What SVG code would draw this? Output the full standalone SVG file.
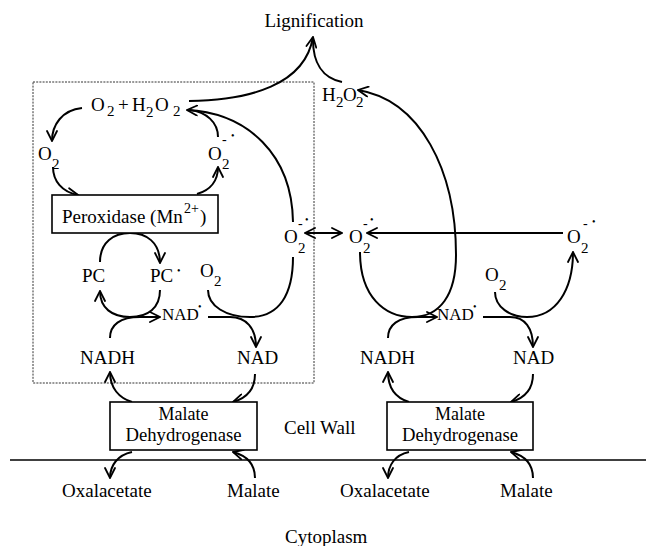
<svg xmlns="http://www.w3.org/2000/svg" width="646" height="546" viewBox="0 0 646 546">
<defs>
<marker id="ah" viewBox="0 0 12 12" refX="11" refY="6" markerWidth="12" markerHeight="12" markerUnits="userSpaceOnUse" orient="auto">
<path d="M1,1 L11,6 L1,11" fill="none" stroke="#000" stroke-width="1.8" stroke-linecap="round" stroke-linejoin="miter"/>
</marker>
<style>
text{font-family:"Liberation Serif","Times New Roman",serif;fill:#000;font-size:19px}
.sub{font-size:15px}
.sup{font-size:14px}
.dot{font-size:10px}
.sm{font-size:17px}
.md{font-size:18px}
.c{fill:none;stroke:#000;stroke-width:2}
.a{marker-end:url(#ah)}
.box{fill:#fff;stroke:#000;stroke-width:1.6}
.dash{fill:none;stroke:#333;stroke-width:1;stroke-dasharray:2 1.2}
.mid{text-anchor:middle}
</style>
</defs>
<rect width="646" height="546" fill="#fff"/>

<g id="cellwall-region">
<rect class="dash" x="33" y="82" width="281" height="301"/>
<line x1="10" y1="460" x2="646" y2="460" stroke="#000" stroke-width="1.5"/>
<text x="284" y="434">Cell Wall</text>
<text x="285" y="543" font-size="18">Cytoplasm</text>
</g>

<g id="connectors">
<path class="c a" d="M189,101 C250,100 305,85 313,37"/>
<path class="c" d="M342,82 C322,78 313,62 313,40"/>
<path class="c a" d="M82,108 C62,110 52,125 52,141"/>
<path class="c a" d="M53,167 C53,181 62,192 78,195"/>
<path class="c a" d="M197,194 C211,190 218,180 218,167"/>
<path class="c" d="M218,137 C218,122 206,112 190,110"/>
<path class="c a" d="M293,222 C292,155 248,113 187,110"/>
<path class="c a" d="M100,262 C100,242 114,233 130,233 C146,233 160,242 160,263"/>
<path class="c a" d="M160,290 C160,308 148,317 130,317 C112,317 100,308 100,291"/>
<path class="c a" d="M110,338 C110,325 120,317 140,317 L160,317"/>
<path class="c a" d="M208,317 L230,317 C246,317 256,328 256,347"/>
<path class="c" d="M208,290 C208,306 226,317 250,317 C279,317 293,295 293,257"/>
<path class="c a" d="M320,233 L342,233"/>
<path class="c a" d="M330,233 L305,233"/>
<path class="c a" d="M563,233 L367,233"/>
<path class="c a" d="M360,252 C360,297 385,317 412,317 C440,317 456,295 456,255 C456,170 420,100 358,90"/>
<path class="c a" d="M388,338 C388,325 398,317 418,317 L437,317"/>
<path class="c a" d="M483,317 L510,317 C525,317 533,328 533,347"/>
<path class="c a" d="M495,292 C495,307 510,317 527,317 C556,317 573,290 573,252"/>
<path class="c a" d="M132,402 C119,398 110,388 110,372"/>
<path class="c a" d="M255,374 C255,389 247,398 233,402"/>
<path class="c a" d="M132,452 C118,455 110,465 110,478"/>
<path class="c a" d="M255,478 C255,465 248,456 233,452"/>
<path class="c a" d="M409,402 C396,398 388,388 388,372"/>
<path class="c a" d="M533,374 C533,389 525,398 511,402"/>
<path class="c a" d="M409,452 C395,455 388,465 388,478"/>
<path class="c a" d="M533,478 C533,465 526,456 511,452"/>
</g>

<g id="lignification"><text x="314" y="27" class="mid" font-size="18">Lignification</text></g>

<g id="o2-h2o2">
<text x="91" y="111">O<tspan x="107" y="116" class="sub">2</tspan><tspan x="118" y="111">+</tspan><tspan x="132" y="111">H</tspan><tspan x="146" y="117" class="sub">2</tspan><tspan x="155" y="111">O</tspan><tspan x="173" y="116" class="sub">2</tspan></text>
</g>

<g id="h2o2-right">
<text x="322" y="101" font-size="18">H<tspan x="336" y="107" class="sub">2</tspan><tspan x="343" y="101">O</tspan><tspan x="356" y="107" class="sub">2</tspan></text>
</g>

<g id="o2-left"><text x="38" y="160">O<tspan x="52" y="169" class="sub">2</tspan></text></g>

<g id="o2rad-upper">
<text x="208" y="160">O<tspan x="222" y="169" class="sub">2</tspan><tspan x="222" y="144" class="sup">-</tspan><tspan x="231" y="139" class="dot">•</tspan></text>
</g>

<g id="peroxidase">
<rect class="box" x="52" y="195" width="166" height="38"/>
<text x="62" y="223">Peroxidase (Mn<tspan x="184" y="213" class="sup">2+</tspan><tspan x="200" y="223">)</tspan></text>
</g>

<g id="pc"><text x="82" y="282">PC</text></g>
<g id="pc-rad"><text x="150" y="282">PC<tspan x="177" y="274" class="dot">•</tspan></text></g>

<g id="o2-mid-left"><text x="200" y="277">O<tspan x="214" y="286" class="sub">2</tspan></text></g>

<g id="o2rad-box">
<text x="284" y="243">O<tspan x="298" y="253" class="sub">2</tspan><tspan x="298" y="228" class="sup">-</tspan><tspan x="305" y="223" class="dot">•</tspan></text>
</g>

<g id="o2rad-mid">
<text x="349" y="243">O<tspan x="363" y="253" class="sub">2</tspan><tspan x="363" y="228" class="sup">-</tspan><tspan x="370" y="223" class="dot">•</tspan></text>
</g>

<g id="o2rad-right">
<text x="567" y="243">O<tspan x="581" y="253" class="sub">2</tspan><tspan x="583" y="228" class="sup">-</tspan><tspan x="592" y="225" class="dot">•</tspan></text>
</g>

<g id="o2-right"><text x="485" y="281">O<tspan x="499" y="290" class="sub">2</tspan></text></g>

<g id="nadrad-left"><text x="162" y="320" class="sm">NAD<tspan x="198" y="310" class="dot">•</tspan></text></g>
<g id="nadrad-right"><text x="437" y="320" class="sm">NAD<tspan x="473" y="310" class="dot">•</tspan></text></g>

<g id="nadh-left"><text x="80" y="364">NADH</text></g>
<g id="nad-left"><text x="237" y="364">NAD</text></g>
<g id="nadh-right"><text x="360" y="364">NADH</text></g>
<g id="nad-right"><text x="513" y="364">NAD</text></g>

<g id="mdh-left">
<rect class="box" x="110" y="402" width="147" height="48"/>
<text x="183.5" y="420" class="mid md">Malate</text>
<text x="183.5" y="441" class="mid md" textLength="116" lengthAdjust="spacingAndGlyphs">Dehydrogenase</text>
</g>
<g id="mdh-right">
<rect class="box" x="387" y="402" width="146" height="48"/>
<text x="460" y="420" class="mid md">Malate</text>
<text x="460" y="441" class="mid md" textLength="116" lengthAdjust="spacingAndGlyphs">Dehydrogenase</text>
</g>

<g id="oxal-left"><text x="62" y="497">Oxalacetate</text></g>
<g id="malate-left"><text x="227" y="497">Malate</text></g>
<g id="oxal-right"><text x="340" y="497">Oxalacetate</text></g>
<g id="malate-right"><text x="500" y="497">Malate</text></g>
</svg>
